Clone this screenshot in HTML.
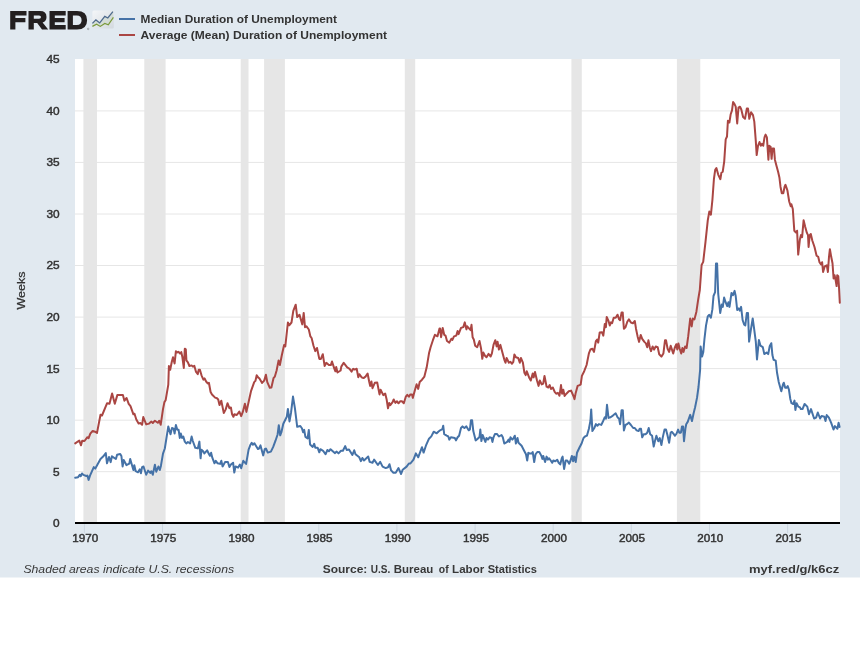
<!DOCTYPE html>
<html><head><meta charset="utf-8"><title>FRED</title>
<style>
html,body{margin:0;padding:0;background:#fff;}
svg{display:block;will-change:transform;font-family:"Liberation Sans",sans-serif;}
.yl{font-size:11px;fill:#333;stroke:#333;stroke-width:0.45;}
.xl{font-size:11px;fill:#333;stroke:#333;stroke-width:0.45;}
.lg{font-size:11px;fill:#333;font-weight:bold;}
.ft{font-size:11.5px;fill:#383838;}
</style></head><body>
<svg width="860" height="646" viewBox="0 0 860 646">
<defs><linearGradient id="ig" x1="0" y1="0" x2="1" y2="1"><stop offset="0" stop-color="#f4f6f8"/><stop offset="1" stop-color="#d3d9df"/></linearGradient></defs>
<rect x="0" y="0" width="860" height="646" fill="#ffffff"/>
<rect x="0" y="0" width="860" height="577.5" fill="#e1e9f0"/>
<rect x="75" y="59" width="765" height="464" fill="#ffffff"/>
<rect x="83.4" y="59" width="13.6" height="464" fill="#e6e6e6"/><rect x="144.3" y="59" width="21.3" height="464" fill="#e6e6e6"/><rect x="240.7" y="59" width="7.8" height="464" fill="#e6e6e6"/><rect x="264.1" y="59" width="20.8" height="464" fill="#e6e6e6"/><rect x="404.8" y="59" width="10.4" height="464" fill="#e6e6e6"/><rect x="571.4" y="59" width="10.4" height="464" fill="#e6e6e6"/><rect x="676.9" y="59" width="23.4" height="464" fill="#e6e6e6"/>
<line x1="75" x2="840" y1="471.7" y2="471.7" stroke="#e6e6e6" stroke-width="1"/><line x1="75" x2="840" y1="420.2" y2="420.2" stroke="#e6e6e6" stroke-width="1"/><line x1="75" x2="840" y1="368.6" y2="368.6" stroke="#e6e6e6" stroke-width="1"/><line x1="75" x2="840" y1="317.1" y2="317.1" stroke="#e6e6e6" stroke-width="1"/><line x1="75" x2="840" y1="265.5" y2="265.5" stroke="#e6e6e6" stroke-width="1"/><line x1="75" x2="840" y1="214.0" y2="214.0" stroke="#e6e6e6" stroke-width="1"/><line x1="75" x2="840" y1="162.4" y2="162.4" stroke="#e6e6e6" stroke-width="1"/><line x1="75" x2="840" y1="110.9" y2="110.9" stroke="#e6e6e6" stroke-width="1"/>
<path d="M75.2 477.8 L78.1 477.2 L79.9 474.7 L80.7 476.2 L82.0 473.5 L83.4 474.9 L86.3 476.0 L87.4 475.6 L88.6 479.9 L90.0 475.6 L93.8 467.1 L95.3 468.6 L100.5 459.0 L103.1 456.6 L105.8 453.1 L107.0 463.3 L109.0 457.0 L110.7 462.1 L111.9 456.3 L115.9 459.0 L117.1 454.7 L120.2 454.0 L121.4 456.0 L122.6 466.5 L123.7 460.1 L126.4 465.1 L129.3 463.6 L130.2 459.0 L133.4 470.0 L134.3 465.3 L135.7 471.2 L138.0 472.3 L139.8 469.4 L140.9 473.3 L142.1 467.1 L143.5 466.5 L146.2 474.7 L148.1 470.6 L150.2 472.9 L151.4 471.2 L152.8 474.7 L154.9 464.8 L156.3 471.7 L158.4 466.5 L159.8 470.0 L160.9 465.9 L163.0 453.7 L164.8 448.5 L168.3 426.4 L170.5 434.2 L172.0 428.0 L173.6 428.6 L174.6 433.5 L175.9 424.9 L177.3 429.8 L178.6 429.8 L179.8 437.9 L180.8 433.5 L182.1 437.9 L183.3 436.6 L184.8 441.6 L186.3 443.5 L187.9 442.0 L190.1 443.5 L191.6 436.6 L192.8 441.0 L195.3 447.8 L197.8 448.4 L199.4 441.6 L200.6 458.3 L201.5 449.7 L202.8 450.9 L204.4 453.4 L207.1 450.3 L208.9 454.0 L209.9 455.8 L211.1 452.8 L212.3 457.7 L214.5 463.3 L215.8 460.8 L217.6 463.3 L220.1 463.9 L221.3 460.8 L222.6 466.4 L225.1 462.0 L227.9 462.0 L229.4 467.0 L230.9 464.5 L233.1 462.7 L234.3 472.6 L235.6 466.4 L238.1 467.6 L239.9 464.5 L241.2 468.2 L243.3 460.8 L246.1 463.9 L248.6 449.7 L250.5 444.7 L251.7 442.8 L252.9 444.7 L254.4 443.2 L257.9 449.0 L259.0 448.5 L260.5 445.4 L263.2 455.4 L264.7 449.2 L265.9 448.5 L267.8 452.6 L270.9 451.6 L273.2 446.9 L275.5 440.7 L277.6 434.5 L278.8 425.2 L280.2 435.3 L281.4 432.2 L283.3 423.7 L286.8 416.7 L287.9 409.0 L289.5 421.4 L291.0 412.9 L293.0 396.6 L294.9 408.2 L297.2 426.8 L300.3 426.0 L301.9 428.3 L303.1 432.2 L304.2 429.9 L305.4 436.9 L307.6 438.4 L308.8 429.9 L310.1 444.6 L312.7 446.9 L314.2 443.8 L315.3 447.7 L317.6 447.7 L319.3 452.3 L320.4 449.2 L323.1 450.8 L325.5 454.3 L327.4 450.0 L328.9 451.3 L330.5 449.2 L334.8 453.1 L336.7 451.6 L338.5 453.4 L341.0 450.8 L342.9 450.8 L345.2 446.1 L346.7 450.0 L349.0 449.5 L352.4 455.0 L354.2 450.3 L355.5 454.2 L359.3 457.3 L360.9 461.1 L362.4 458.0 L364.0 460.4 L368.2 456.5 L369.7 461.9 L372.5 462.7 L374.1 459.6 L377.9 465.0 L380.2 461.9 L382.6 466.6 L385.7 468.1 L388.0 467.3 L389.5 464.2 L391.1 470.4 L393.4 472.8 L395.7 472.8 L398.5 468.1 L401.1 474.0 L402.7 469.7 L406.6 466.6 L408.9 463.5 L410.4 463.5 L413.5 459.6 L415.9 453.4 L418.2 457.3 L422.0 447.2 L423.6 452.6 L425.9 445.7 L429.0 438.7 L431.3 436.4 L433.7 431.7 L436.7 433.3 L438.3 431.7 L440.1 430.3 L442.4 429.2 L443.2 425.7 L444.2 434.2 L446.7 435.7 L448.3 436.5 L449.3 439.6 L450.9 437.3 L454.8 438.0 L456.0 440.4 L457.6 437.3 L459.1 435.7 L461.0 428.0 L462.5 426.4 L464.4 428.0 L466.4 426.4 L468.7 430.3 L469.9 429.5 L471.0 420.2 L472.1 420.2 L473.3 431.1 L475.7 440.4 L477.7 438.8 L479.5 437.0 L480.3 429.5 L481.4 441.1 L482.6 435.0 L485.4 441.9 L486.5 438.0 L488.0 439.6 L489.6 437.3 L491.6 438.0 L492.4 441.9 L493.5 437.3 L495.0 433.9 L496.9 433.9 L498.9 436.5 L501.5 435.0 L502.8 437.3 L504.3 443.5 L505.9 442.7 L507.4 441.6 L508.6 439.6 L509.4 441.9 L510.5 437.3 L512.4 439.6 L513.6 438.0 L514.8 435.7 L515.9 443.5 L517.5 438.0 L518.5 442.7 L521.6 445.8 L524.4 451.2 L526.0 454.3 L527.2 460.5 L528.3 452.8 L529.6 453.5 L531.6 453.5 L532.7 452.0 L534.2 462.0 L535.5 454.3 L537.3 452.0 L539.3 452.0 L541.4 455.9 L542.4 458.9 L543.2 455.9 L545.1 462.0 L546.6 456.6 L547.9 459.7 L549.1 458.2 L550.7 460.5 L552.2 462.8 L553.3 460.5 L555.3 461.3 L557.2 459.7 L558.7 462.8 L560.2 464.4 L561.8 458.2 L562.6 456.6 L564.1 469.0 L565.7 460.5 L567.2 460.5 L569.2 463.6 L570.3 461.3 L571.9 455.9 L573.1 461.3 L574.2 456.6 L575.7 462.0 L577.0 452.8 L579.6 447.3 L581.6 443.5 L583.5 438.0 L585.0 436.5 L586.9 435.7 L588.9 428.8 L590.4 421.0 L591.2 409.4 L592.4 431.1 L594.3 428.0 L595.9 424.1 L597.4 425.7 L598.9 424.1 L601.3 424.9 L602.8 421.8 L604.8 417.2 L605.9 418.7 L607.0 404.8 L608.5 417.9 L610.6 417.2 L612.9 415.6 L615.7 413.3 L617.5 417.2 L619.1 418.7 L620.1 424.2 L621.6 410.2 L622.8 410.2 L623.9 430.4 L625.5 425.0 L627.0 424.2 L628.9 422.6 L630.9 425.0 L633.2 428.0 L634.8 428.0 L636.6 430.4 L638.6 431.1 L639.7 428.8 L641.0 428.8 L642.2 437.3 L643.7 434.2 L645.6 434.2 L647.2 432.7 L648.7 428.0 L650.2 434.2 L652.1 435.8 L653.7 446.6 L654.9 441.2 L656.4 435.8 L658.3 441.2 L659.8 438.1 L661.4 445.1 L662.6 438.1 L664.5 429.6 L666.0 429.6 L667.6 435.8 L669.1 442.8 L670.7 432.7 L671.9 431.9 L673.8 434.2 L675.0 435.8 L676.6 433.5 L678.1 429.6 L679.3 432.7 L680.9 432.7 L682.0 426.5 L683.1 426.5 L684.0 441.2 L685.5 428.0 L686.2 424.2 L687.7 421.9 L690.2 414.9 L692.0 421.1 L693.6 413.3 L695.1 407.2 L697.0 397.9 L698.5 387.0 L700.1 370.0 L700.6 346.5 L702.1 356.6 L703.3 351.9 L704.4 339.5 L706.0 325.6 L707.8 316.3 L709.1 314.8 L710.9 317.7 L712.4 309.2 L713.5 296.0 L715.1 292.2 L716.0 263.5 L717.1 263.5 L718.2 293.7 L720.2 313.0 L721.7 304.5 L722.8 306.9 L724.1 297.6 L725.6 302.2 L727.2 306.1 L728.4 302.2 L729.5 306.9 L731.5 292.9 L733.0 295.2 L734.6 290.9 L735.7 296.0 L737.2 310.0 L738.8 308.4 L739.8 310.7 L741.1 306.9 L742.6 320.0 L744.2 324.7 L745.3 325.4 L746.8 313.0 L748.0 313.0 L749.1 341.7 L750.7 330.9 L752.7 318.5 L754.2 329.3 L755.8 341.7 L757.0 359.5 L758.9 340.1 L760.4 345.6 L762.8 347.1 L764.3 354.1 L766.6 352.5 L768.2 354.1 L769.7 346.3 L771.3 343.2 L772.4 355.0 L773.6 359.8 L775.7 360.6 L777.0 372.5 L778.7 381.9 L781.3 391.2 L783.0 384.4 L783.8 382.7 L785.2 387.8 L786.4 387.8 L787.7 386.1 L788.9 389.5 L790.3 398.9 L791.5 403.2 L793.2 404.0 L794.5 400.6 L795.4 410.0 L796.6 403.2 L798.3 406.6 L800.0 407.4 L800.8 409.1 L802.5 409.1 L804.6 404.0 L807.3 406.6 L809.0 414.2 L811.0 409.1 L812.7 414.2 L814.1 418.5 L816.1 417.6 L817.8 412.5 L820.1 418.5 L821.6 415.9 L824.3 416.8 L825.5 421.0 L826.7 415.1 L828.9 417.6 L831.1 422.7 L833.5 429.5 L834.9 426.1 L837.4 428.7 L838.6 422.7 L839.6 427.0" fill="none" stroke="#4572a7" stroke-width="2" stroke-linejoin="round" stroke-linecap="round"/>
<path d="M75.2 443.4 L79.3 440.5 L81.0 445.3 L82.2 440.7 L84.5 441.0 L87.4 437.2 L88.6 438.1 L90.3 433.7 L92.7 430.9 L95.0 431.7 L97.0 432.9 L100.5 414.7 L102.0 415.5 L107.0 403.3 L109.5 403.8 L112.1 393.4 L114.8 403.8 L117.4 394.9 L122.9 394.9 L124.4 400.7 L126.6 398.0 L128.7 403.8 L130.5 406.2 L133.4 414.3 L134.5 413.7 L136.3 419.5 L138.6 423.6 L140.3 423.0 L142.1 424.8 L143.3 417.0 L146.2 424.4 L149.1 423.6 L151.4 421.6 L152.8 423.0 L154.9 420.7 L157.8 422.8 L159.3 420.7 L160.7 424.8 L163.0 409.1 L164.4 402.1 L165.6 400.3 L168.3 384.7 L168.9 366.0 L170.2 369.7 L171.8 361.7 L173.0 357.3 L174.6 363.5 L175.9 351.2 L177.3 352.4 L178.6 351.8 L180.1 353.6 L181.3 352.1 L182.3 356.7 L183.8 367.9 L184.8 348.7 L185.8 349.3 L186.4 360.4 L187.9 362.3 L189.4 366.0 L191.6 365.4 L192.8 366.6 L194.3 365.8 L195.9 371.6 L197.8 374.1 L198.7 369.7 L199.9 369.7 L201.5 375.3 L203.4 379.7 L204.6 378.4 L206.1 381.5 L207.7 383.4 L208.9 382.8 L210.6 392.0 L212.0 394.5 L215.1 397.6 L217.0 398.2 L218.2 399.5 L219.5 405.1 L221.3 400.7 L223.8 413.1 L225.7 409.4 L227.5 403.2 L229.4 408.2 L230.9 407.5 L232.1 414.3 L233.4 416.8 L234.3 414.3 L236.8 415.0 L239.3 411.6 L241.2 416.2 L242.8 411.9 L244.9 403.8 L246.4 411.9 L248.6 402.0 L251.1 390.8 L254.2 382.1 L255.4 380.9 L256.7 375.3 L258.5 377.8 L259.3 378.2 L262.1 382.9 L264.2 380.6 L265.9 374.8 L267.3 382.1 L269.8 387.8 L271.4 387.5 L273.5 378.2 L274.8 376.7 L276.6 370.5 L278.6 360.4 L279.9 365.1 L281.7 355.8 L284.1 345.0 L285.3 346.5 L287.9 322.5 L289.2 325.3 L291.5 322.5 L293.3 310.9 L295.7 304.7 L297.2 317.1 L299.5 314.8 L302.3 324.4 L303.7 312.9 L305.0 327.2 L306.5 326.4 L308.8 329.5 L310.4 336.4 L311.6 338.0 L313.5 345.7 L315.3 351.1 L317.0 348.0 L319.3 358.9 L320.9 358.9 L322.8 354.2 L324.6 365.9 L326.3 362.8 L328.9 365.1 L330.8 365.1 L332.0 361.5 L334.4 368.9 L335.4 371.3 L336.2 367.1 L337.5 372.5 L340.6 370.5 L341.3 366.6 L343.7 362.8 L347.2 367.4 L349.6 368.8 L351.6 371.6 L353.2 368.8 L354.7 369.6 L356.7 368.8 L358.3 377.3 L359.3 374.2 L361.7 377.3 L363.5 378.1 L365.5 376.6 L367.6 373.5 L369.1 381.2 L370.2 385.9 L371.4 381.5 L372.5 388.2 L374.8 382.8 L377.2 382.4 L379.5 394.4 L380.6 389.7 L383.3 395.1 L385.2 393.6 L386.7 399.8 L388.0 408.3 L389.2 402.9 L390.3 405.2 L392.6 402.1 L393.7 399.5 L395.4 402.9 L397.0 401.3 L398.5 403.3 L400.1 401.3 L401.9 401.3 L403.8 403.3 L405.8 396.7 L407.3 394.8 L408.9 396.7 L410.4 394.4 L412.0 394.4 L412.8 397.9 L414.6 391.3 L416.6 384.3 L418.2 388.9 L419.7 382.0 L422.0 379.7 L424.4 376.6 L426.7 367.3 L429.0 353.3 L430.6 347.2 L432.9 340.2 L434.9 334.8 L437.5 336.3 L439.5 328.6 L440.1 328.6 L441.1 337.2 L442.7 327.9 L444.2 334.8 L445.5 335.6 L447.0 341.0 L449.3 342.6 L451.4 338.7 L452.4 339.9 L454.0 336.4 L456.3 335.6 L457.6 331.0 L458.6 334.1 L461.0 327.9 L463.3 327.1 L464.8 322.4 L466.4 329.4 L467.2 326.3 L470.6 330.2 L471.5 324.8 L472.6 337.2 L473.8 339.5 L475.2 345.7 L477.2 347.2 L479.5 341.0 L481.1 348.8 L482.3 358.8 L483.4 352.6 L485.0 355.7 L486.5 357.3 L488.5 353.9 L490.7 356.5 L491.9 353.4 L493.5 344.9 L495.3 340.2 L496.6 346.4 L497.6 341.8 L498.9 349.5 L500.4 344.9 L502.4 352.6 L504.3 359.6 L505.5 362.7 L506.6 358.0 L508.9 362.7 L510.5 361.9 L512.0 363.8 L513.3 361.9 L514.4 354.5 L515.9 357.3 L518.2 358.0 L519.8 362.7 L520.9 358.0 L522.9 362.7 L524.4 372.8 L525.7 375.1 L526.7 371.2 L529.1 377.4 L530.8 380.5 L532.7 373.5 L533.6 377.4 L535.0 372.0 L537.0 380.5 L538.6 385.9 L539.8 380.5 L541.7 384.4 L543.2 383.6 L544.5 375.9 L546.6 386.7 L548.3 387.5 L549.7 385.1 L551.0 389.0 L552.8 387.5 L554.8 392.1 L556.4 393.7 L557.9 392.9 L559.5 395.7 L561.0 385.1 L562.1 393.7 L563.3 389.8 L564.6 396.0 L566.4 393.7 L568.8 391.3 L571.1 390.6 L573.4 396.0 L574.5 399.1 L575.7 392.9 L577.6 385.9 L579.6 385.1 L580.7 384.4 L581.9 375.9 L584.2 371.2 L586.6 365.0 L588.9 353.4 L590.4 349.5 L592.4 348.8 L594.0 351.9 L595.9 341.0 L597.1 339.5 L598.2 342.6 L599.7 332.5 L602.0 332.2 L603.3 335.6 L604.8 324.0 L605.9 327.1 L606.7 317.0 L608.5 320.9 L609.8 325.5 L611.0 322.4 L612.1 323.2 L613.7 317.8 L615.7 317.8 L617.5 314.7 L619.1 319.3 L620.1 320.2 L621.6 312.4 L622.7 312.4 L623.9 328.7 L625.5 327.2 L627.3 321.7 L628.9 319.4 L630.9 322.5 L632.9 323.3 L634.8 321.0 L636.0 328.7 L637.6 336.4 L639.1 341.9 L640.7 334.9 L642.2 338.8 L644.4 341.9 L645.9 343.4 L647.2 347.3 L648.4 340.3 L649.9 348.0 L651.0 351.1 L652.6 346.5 L654.1 349.6 L655.7 346.5 L657.7 347.3 L659.2 354.2 L661.4 356.6 L663.4 353.5 L665.0 340.3 L666.0 340.3 L667.6 348.8 L669.1 351.9 L670.7 345.7 L672.2 350.4 L673.2 353.5 L674.7 348.0 L676.3 344.2 L677.3 349.6 L678.4 343.4 L679.7 348.8 L681.2 353.5 L682.4 348.0 L683.5 351.9 L685.1 346.5 L686.6 348.0 L688.2 336.4 L690.2 318.6 L691.7 326.4 L692.8 318.6 L694.4 319.4 L696.4 311.7 L698.2 299.3 L699.8 290.0 L701.6 265.0 L703.2 261.9 L705.5 241.8 L707.8 220.1 L709.3 211.6 L710.9 214.7 L712.4 200.0 L713.9 179.2 L715.2 169.9 L716.4 168.1 L718.2 174.6 L720.4 179.2 L721.4 172.7 L722.7 171.8 L724.2 161.6 L725.7 139.3 L727.0 136.5 L727.9 120.7 L729.4 122.5 L730.7 114.2 L732.0 110.4 L733.1 102.1 L734.4 103.9 L735.7 106.7 L737.2 123.5 L738.5 107.7 L740.0 106.7 L741.3 109.5 L743.1 117.0 L745.0 118.8 L746.8 108.6 L748.0 108.6 L749.3 118.8 L751.1 112.3 L753.0 115.1 L754.3 121.6 L755.8 141.1 L756.7 155.1 L758.0 145.8 L759.5 142.0 L760.8 145.8 L761.9 143.9 L763.2 145.8 L764.5 137.4 L765.6 134.6 L766.9 137.4 L768.4 159.7 L769.3 145.8 L770.6 146.7 L771.6 158.8 L772.5 148.6 L774.0 148.6 L774.9 159.7 L776.6 166.2 L778.1 171.8 L779.4 177.4 L780.5 186.7 L781.8 193.2 L783.3 193.2 L784.6 186.7 L785.5 184.8 L787.4 190.4 L789.2 201.5 L790.7 206.2 L791.4 204.3 L792.8 209.0 L794.3 230.7 L796.0 232.5 L797.1 230.7 L798.2 254.6 L799.9 239.4 L801.0 235.1 L802.1 237.2 L803.6 220.3 L805.1 226.4 L806.9 232.9 L808.0 235.1 L808.6 247.0 L809.7 235.1 L810.8 234.0 L812.3 240.5 L814.5 247.0 L816.6 255.7 L818.2 256.8 L819.5 262.2 L821.0 264.4 L822.1 262.2 L823.1 272.0 L824.7 266.5 L826.8 265.4 L827.9 272.0 L829.0 256.8 L829.9 249.2 L831.2 256.8 L832.5 263.3 L833.6 278.5 L834.6 275.2 L835.7 280.6 L836.6 286.1 L837.2 275.2 L838.3 276.3 L839.0 287.1 L839.8 302.8" fill="none" stroke="#aa4643" stroke-width="2" stroke-linejoin="round" stroke-linecap="round"/>
<rect x="75" y="522" width="765" height="2" fill="#000"/>
<text x="53" y="527.2" textLength="6.6" lengthAdjust="spacingAndGlyphs" class="yl">0</text><text x="53" y="475.6" textLength="6.6" lengthAdjust="spacingAndGlyphs" class="yl">5</text><text x="46.4" y="424.1" textLength="13.2" lengthAdjust="spacingAndGlyphs" class="yl">10</text><text x="46.4" y="372.5" textLength="13.2" lengthAdjust="spacingAndGlyphs" class="yl">15</text><text x="46.4" y="321.0" textLength="13.2" lengthAdjust="spacingAndGlyphs" class="yl">20</text><text x="46.4" y="269.4" textLength="13.2" lengthAdjust="spacingAndGlyphs" class="yl">25</text><text x="46.4" y="217.9" textLength="13.2" lengthAdjust="spacingAndGlyphs" class="yl">30</text><text x="46.4" y="166.3" textLength="13.2" lengthAdjust="spacingAndGlyphs" class="yl">35</text><text x="46.4" y="114.8" textLength="13.2" lengthAdjust="spacingAndGlyphs" class="yl">40</text><text x="46.4" y="63.2" textLength="13.2" lengthAdjust="spacingAndGlyphs" class="yl">45</text>
<line x1="84.4" x2="84.4" y1="524" y2="533" stroke="#ccd6e0" stroke-width="1"/><text x="72.2" y="542" textLength="26" lengthAdjust="spacingAndGlyphs" class="xl">1970</text><line x1="162.5" x2="162.5" y1="524" y2="533" stroke="#ccd6e0" stroke-width="1"/><text x="150.3" y="542" textLength="26" lengthAdjust="spacingAndGlyphs" class="xl">1975</text><line x1="240.7" x2="240.7" y1="524" y2="533" stroke="#ccd6e0" stroke-width="1"/><text x="228.5" y="542" textLength="26" lengthAdjust="spacingAndGlyphs" class="xl">1980</text><line x1="318.8" x2="318.8" y1="524" y2="533" stroke="#ccd6e0" stroke-width="1"/><text x="306.6" y="542" textLength="26" lengthAdjust="spacingAndGlyphs" class="xl">1985</text><line x1="396.9" x2="396.9" y1="524" y2="533" stroke="#ccd6e0" stroke-width="1"/><text x="384.7" y="542" textLength="26" lengthAdjust="spacingAndGlyphs" class="xl">1990</text><line x1="475.1" x2="475.1" y1="524" y2="533" stroke="#ccd6e0" stroke-width="1"/><text x="462.9" y="542" textLength="26" lengthAdjust="spacingAndGlyphs" class="xl">1995</text><line x1="553.2" x2="553.2" y1="524" y2="533" stroke="#ccd6e0" stroke-width="1"/><text x="541.0" y="542" textLength="26" lengthAdjust="spacingAndGlyphs" class="xl">2000</text><line x1="631.3" x2="631.3" y1="524" y2="533" stroke="#ccd6e0" stroke-width="1"/><text x="619.1" y="542" textLength="26" lengthAdjust="spacingAndGlyphs" class="xl">2005</text><line x1="709.5" x2="709.5" y1="524" y2="533" stroke="#ccd6e0" stroke-width="1"/><text x="697.3" y="542" textLength="26" lengthAdjust="spacingAndGlyphs" class="xl">2010</text><line x1="787.6" x2="787.6" y1="524" y2="533" stroke="#ccd6e0" stroke-width="1"/><text x="775.4" y="542" textLength="26" lengthAdjust="spacingAndGlyphs" class="xl">2015</text>
<text transform="translate(25,309.6) rotate(-90)" textLength="38" lengthAdjust="spacingAndGlyphs" style="font-size:11px;fill:#333;stroke:#333;stroke-width:0.25;">Weeks</text>
<!-- logo -->
<g fill="#231f20" fill-rule="evenodd">
<path d="M10.2 11.1 H26.5 V15.5 H15.4 V18.1 H25.4 V22.3 H15.4 V29.6 H10.2 Z"/>
<path d="M28.5 11.1 H40 Q46.5 11.1 46.5 17 Q46.5 21.3 42.6 22.5 L48.2 29.6 H42 L37.2 23 H33.8 V29.6 H28.5 Z M33.8 15.4 H39 Q41 15.4 41 17.1 Q41 18.8 39 18.8 H33.8 Z"/>
<path d="M49.5 11.1 H65.7 V15.5 H54.8 V18.1 H64.6 V22.3 H54.8 V25.1 H65.7 V29.6 H49.5 Z"/>
<path d="M67.6 11.1 H77 Q87.1 11.1 87.1 20.35 Q87.1 29.6 77 29.6 H67.6 Z M72.9 15.5 H76.8 Q81.6 15.5 81.6 20.35 Q81.6 25.1 76.8 25.1 H72.9 Z"/>
</g>
<circle cx="88.2" cy="28.9" r="0.8" fill="none" stroke="#555" stroke-width="0.4"/>
<rect x="92.4" y="10.6" width="21.4" height="17.8" rx="1.5" fill="url(#ig)"/>
<path d="M92.4 23.4 L95.9 19.9 L99.7 22.9 L104.8 16.4 L107.8 18 L112.9 11.7 L113.4 17.3 L108.3 24.8 L104.8 23.4 L100.3 26.4 L96.6 24.3 L92.4 26.4 Z" fill="#cfd8cf" opacity="0.7"/>
<path d="M92.4 23.4 L95.9 19.9 L99.7 22.9 L104.8 16.4 L107.8 18 L112.9 11.7" fill="none" stroke="#4e6a8c" stroke-width="1.3"/>
<path d="M92.4 26.4 L96.6 24.3 L100.3 26.4 L104.8 23.4 L108.3 24.8 L113.4 17.3" fill="none" stroke="#7a9a3a" stroke-width="1.2"/>
<!-- legend -->
<line x1="119" x2="135" y1="19" y2="19" stroke="#4572a7" stroke-width="2"/>
<line x1="119" x2="135" y1="35" y2="35" stroke="#aa4643" stroke-width="2"/>
<text x="140.6" y="23" class="lg" textLength="196.4" lengthAdjust="spacingAndGlyphs">Median Duration of Unemployment</text>
<text x="140.6" y="38.8" class="lg" textLength="246.4" lengthAdjust="spacingAndGlyphs">Average (Mean) Duration of Unemployment</text>
<!-- footer -->
<text x="23.4" y="573" class="ft" style="font-style:italic;" textLength="210.7" lengthAdjust="spacingAndGlyphs">Shaded areas indicate U.S. recessions</text>
<text x="322.7" y="573" class="ft" style="font-weight:bold;" textLength="44.6" lengthAdjust="spacingAndGlyphs">Source:</text>
<text x="370.8" y="573" class="ft" style="font-weight:bold;" textLength="19.5" lengthAdjust="spacingAndGlyphs">U.S.</text>
<text x="393.8" y="573" class="ft" style="font-weight:bold;" textLength="39.5" lengthAdjust="spacingAndGlyphs">Bureau</text>
<text x="438.8" y="573" class="ft" style="font-weight:bold;" textLength="9.8" lengthAdjust="spacingAndGlyphs">of</text>
<text x="452.1" y="573" class="ft" style="font-weight:bold;" textLength="32.1" lengthAdjust="spacingAndGlyphs">Labor</text>
<text x="487.7" y="573" class="ft" style="font-weight:bold;" textLength="49.2" lengthAdjust="spacingAndGlyphs">Statistics</text>
<text x="749" y="573" class="ft" style="font-weight:bold;" textLength="90.3" lengthAdjust="spacingAndGlyphs">myf.red/g/k6cz</text>
</svg>
</body></html>
